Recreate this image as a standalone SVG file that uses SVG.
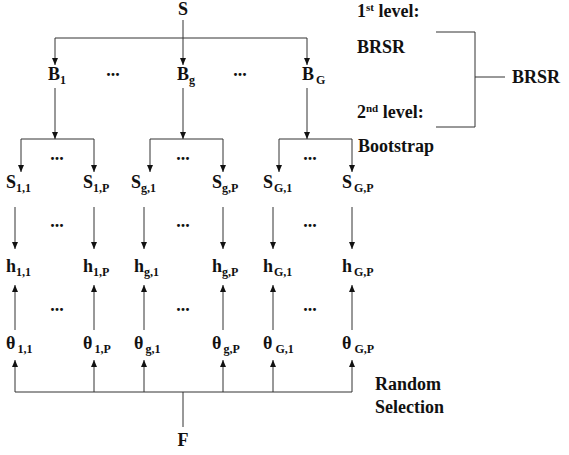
<svg xmlns="http://www.w3.org/2000/svg" width="569" height="455" viewBox="0 0 569 455">
<style>
.t{font-family:'Times New Roman','Liberation Serif',serif;font-weight:bold;font-size:18px;fill:#111}
.sub{font-size:12px}
.sup{font-size:11px}
.m{text-anchor:middle}
.c line,.c polyline{stroke:#333;stroke-width:1;fill:none}
</style>
<defs>
<marker id="ah" markerUnits="userSpaceOnUse" markerWidth="8" markerHeight="8" refX="7" refY="3" orient="auto">
<path d="M0,0 L7,3 L0,6 z" fill="#111"/>
</marker>
</defs>
<rect width="569" height="455" fill="#fff"/>
<g id="connectors" class="c">
<line x1="183" y1="20" x2="183" y2="65" marker-end="url(#ah)"/>
<line x1="55" y1="38" x2="307" y2="38"/>
<line x1="55" y1="38" x2="55" y2="65" marker-end="url(#ah)"/>
<line x1="307" y1="38" x2="307" y2="65" marker-end="url(#ah)"/>
<line x1="55" y1="88" x2="55" y2="139" marker-end="url(#ah)"/>
<line x1="183" y1="88" x2="183" y2="139" marker-end="url(#ah)"/>
<line x1="307" y1="88" x2="307" y2="139" marker-end="url(#ah)"/>
<line x1="21" y1="139" x2="94" y2="139"/>
<line x1="21" y1="139" x2="21" y2="172" marker-end="url(#ah)"/>
<line x1="94" y1="139" x2="94" y2="172" marker-end="url(#ah)"/>
<line x1="150" y1="139" x2="223" y2="139"/>
<line x1="150" y1="139" x2="150" y2="172" marker-end="url(#ah)"/>
<line x1="223" y1="139" x2="223" y2="172" marker-end="url(#ah)"/>
<line x1="279" y1="139" x2="352" y2="139"/>
<line x1="279" y1="139" x2="279" y2="172" marker-end="url(#ah)"/>
<line x1="352" y1="139" x2="352" y2="172" marker-end="url(#ah)"/>
<line x1="15" y1="207" x2="15" y2="249" marker-end="url(#ah)"/>
<line x1="94" y1="207" x2="94" y2="249" marker-end="url(#ah)"/>
<line x1="144" y1="207" x2="144" y2="249" marker-end="url(#ah)"/>
<line x1="223" y1="207" x2="223" y2="249" marker-end="url(#ah)"/>
<line x1="273" y1="207" x2="273" y2="249" marker-end="url(#ah)"/>
<line x1="352" y1="207" x2="352" y2="249" marker-end="url(#ah)"/>
<line x1="15" y1="330" x2="15" y2="285" marker-end="url(#ah)"/>
<line x1="94" y1="330" x2="94" y2="285" marker-end="url(#ah)"/>
<line x1="144" y1="330" x2="144" y2="285" marker-end="url(#ah)"/>
<line x1="223" y1="330" x2="223" y2="285" marker-end="url(#ah)"/>
<line x1="273" y1="330" x2="273" y2="285" marker-end="url(#ah)"/>
<line x1="352" y1="330" x2="352" y2="285" marker-end="url(#ah)"/>
<line x1="15" y1="392" x2="352" y2="392"/>
<line x1="15" y1="392" x2="15" y2="360" marker-end="url(#ah)"/>
<line x1="94" y1="392" x2="94" y2="360" marker-end="url(#ah)"/>
<line x1="144" y1="392" x2="144" y2="360" marker-end="url(#ah)"/>
<line x1="223" y1="392" x2="223" y2="360" marker-end="url(#ah)"/>
<line x1="273" y1="392" x2="273" y2="360" marker-end="url(#ah)"/>
<line x1="352" y1="392" x2="352" y2="360" marker-end="url(#ah)"/>
<line x1="183" y1="392" x2="183" y2="427"/>
<polyline points="436,32 475,32 475,127 436,127"/>
<line x1="475" y1="77" x2="505" y2="77"/>
</g>
<g id="S"><text class="t m" x="183" y="15">S</text></g>
<g id="B1"><text class="t" x="48" y="80">B<tspan class="sub" dy="4">1</tspan></text></g>
<g id="Bg"><text class="t" x="177" y="80">B<tspan class="sub" dy="4">g</tspan></text></g>
<g id="BG"><text class="t" x="302" y="80">B<tspan class="sub" dx="2" dy="4">G</tspan></text></g>
<g id="dots">
<text class="t m" x="113" y="76">...</text>
<text class="t m" x="240" y="76">...</text>
<text class="t m" x="57" y="160">...</text>
<text class="t m" x="183" y="160">...</text>
<text class="t m" x="310" y="160">...</text>
<text class="t m" x="57" y="227">...</text>
<text class="t m" x="183" y="227">...</text>
<text class="t m" x="310" y="227">...</text>
<text class="t m" x="57" y="311">...</text>
<text class="t m" x="183" y="311">...</text>
<text class="t m" x="310" y="311">...</text>
</g>
<g id="S11"><text class="t" x="6" y="188">S<tspan class="sub" dy="4">1,1</tspan></text></g>
<g id="S1P"><text class="t" x="83" y="188">S<tspan class="sub" dy="4">1,P</tspan></text></g>
<g id="Sg1"><text class="t" x="131" y="188">S<tspan class="sub" dy="4">g,1</tspan></text></g>
<g id="SgP"><text class="t" x="212" y="188">S<tspan class="sub" dy="4">g,P</tspan></text></g>
<g id="SG1"><text class="t" x="263" y="188">S<tspan class="sub" dx="1" dy="4">G,1</tspan></text></g>
<g id="SGP"><text class="t" x="342" y="188">S<tspan class="sub" dx="2" dy="4">G,P</tspan></text></g>
<g id="h11"><text class="t" x="6" y="272">h<tspan class="sub" dy="4">1,1</tspan></text></g>
<g id="h1P"><text class="t" x="83" y="272">h<tspan class="sub" dy="4">1,P</tspan></text></g>
<g id="hg1"><text class="t" x="134" y="272">h<tspan class="sub" dy="4">g,1</tspan></text></g>
<g id="hgP"><text class="t" x="212" y="272">h<tspan class="sub" dy="4">g,P</tspan></text></g>
<g id="hG1"><text class="t" x="263" y="272">h<tspan class="sub" dx="1" dy="4">G,1</tspan></text></g>
<g id="hGP"><text class="t" x="342" y="272">h<tspan class="sub" dx="2" dy="4">G,P</tspan></text></g>
<g id="t11"><text class="t" x="6" y="349">θ<tspan class="sub" dx="2" dy="4">1,1</tspan></text></g>
<g id="t1P"><text class="t" x="83" y="349">θ<tspan class="sub" dx="2" dy="4">1,P</tspan></text></g>
<g id="tg1"><text class="t" x="134" y="349">θ<tspan class="sub" dx="2" dy="4">g,1</tspan></text></g>
<g id="tgP"><text class="t" x="212" y="349">θ<tspan class="sub" dx="2" dy="4">g,P</tspan></text></g>
<g id="tG1"><text class="t" x="263" y="349">θ<tspan class="sub" dx="3" dy="4">G,1</tspan></text></g>
<g id="tGP"><text class="t" x="342" y="349">θ<tspan class="sub" dx="3" dy="4">G,P</tspan></text></g>
<g id="F"><text class="t m" x="183" y="446">F</text></g>
<g id="labels">
<text class="t" x="357" y="17">1<tspan class="sup" dy="-6">st</tspan><tspan dy="6"> level:</tspan></text>
<text class="t" x="357" y="53">BRSR</text>
<text class="t" x="357" y="118">2<tspan class="sup" dy="-6">nd</tspan><tspan dy="6"> level:</tspan></text>
<text class="t" x="358" y="152">Bootstrap</text>
<text class="t" x="512" y="83">BRSR</text>
<text class="t" x="375" y="390">Random</text>
<text class="t" x="375" y="413">Selection</text>
</g>
</svg>
